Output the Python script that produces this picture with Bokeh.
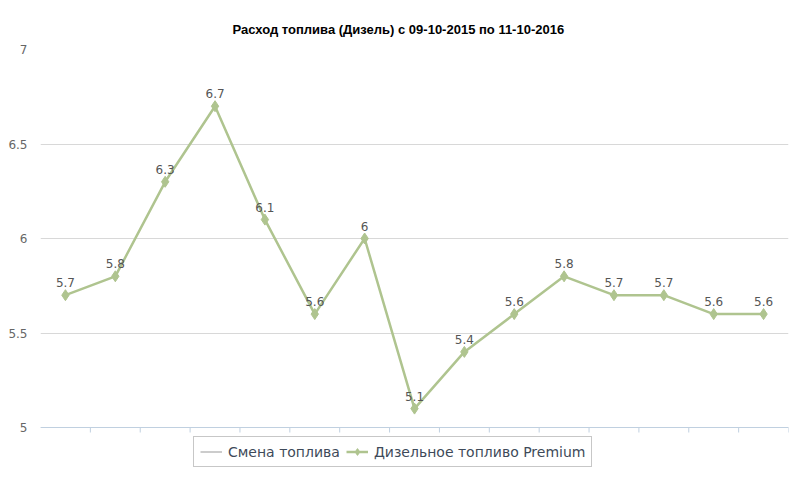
from bokeh.plotting import figure
from bokeh.models import Range1d, FixedTicker, Legend, LegendItem, ColumnDataSource, Span, Title
from bokeh.core.properties import value
from bokeh.embed import file_html
from bokeh.resources import INLINE

title = "Расход топлива (Дизель) с 09-10-2015 по 11-10-2016"
values = [5.7, 5.8, 6.3, 6.7, 6.1, 5.6, 6.0, 5.1, 5.4, 5.6, 5.8, 5.7, 5.7, 5.6, 5.6]
labels = ["5.7", "5.8", "6.3", "6.7", "6.1", "5.6", "6", "5.1", "5.4", "5.6", "5.8", "5.7", "5.7", "5.6", "5.6"]
y_ticks = [5, 5.5, 6, 6.5, 7]
series_names = ["Смена топлива", "Дизельное топливо Premium"]

# layout (pixels)
PLOT_H = 378          # height of the value band 5..7
BELOW = 59            # space under the x axis for ticks and legend
FRAME_H = PLOT_H + BELOW
y_min, y_max = y_ticks[0], y_ticks[-1]
px_per_unit = PLOT_H / (y_max - y_min)

x = list(range(len(values)))
src = ColumnDataSource(dict(x=x, y=values, t=labels))
bounds = [i + 0.5 for i in x]
tick_src = ColumnDataSource(dict(x=bounds, y0=[y_min] * len(bounds),
                                 y1=[y_min - 5 / px_per_unit] * len(bounds)))

p = figure(frame_width=748, frame_height=FRAME_H, output_backend="svg", toolbar_location=None,
           x_range=Range1d(-0.5, len(values) - 0.5),
           y_range=Range1d(y_min - BELOW / px_per_unit, y_max),
           x_axis_location=None,
           min_border_left=40, min_border_right=12, min_border_top=49, min_border_bottom=0)
p.outline_line_color = None
p.background_fill_color = "white"
p.border_fill_color = "white"

p.title.text = title
p.title.align = "left"
p.title.offset = 192
p.title.text_font = "Liberation Sans"
p.title.text_font_style = "bold"
p.title.text_font_size = "13px"
p.title.text_color = "#000000"
p.add_layout(Title(text=" ", text_font_size="5px", standoff=0), "above")

p.xgrid.grid_line_color = None

# y axis
p.yaxis.ticker = FixedTicker(ticks=y_ticks)
p.yaxis.axis_line_color = None
p.yaxis.major_tick_line_color = None
p.yaxis.minor_tick_line_color = None
p.yaxis.major_label_text_font = "DejaVu Sans"
p.yaxis.major_label_text_font_size = "12px"
p.yaxis.major_label_text_color = "#666666"
p.yaxis.major_label_standoff = 7
p.ygrid.grid_line_color = "#D8D8D8"
p.ygrid.grid_line_width = 1

# x axis line and category boundary ticks
p.add_layout(Span(location=y_min, dimension="width", line_color="#C0D0E0", line_width=1))
p.segment(x0="x", y0="y0", x1="x", y1="y1", source=tick_src, line_color="#C0D0E0", line_width=1)

green = "#AFC48F"
nan = float("nan")
dummy = p.line(x=[nan, nan], y=[nan, nan], line_color="#CCCCCC", line_width=2)
ln = p.line("x", "y", source=src, line_color=green, line_width=2.5)
mk = p.scatter("x", "y", source=src, marker="diamond", size=11, fill_color=green, line_color=green)

p.text("x", "y", text="t", source=src, text_align="center", text_baseline="bottom",
       y_offset=-8, text_font=value("DejaVu Sans"), text_font_size="12px", text_color="#555555")

legend = Legend(items=[LegendItem(label=series_names[0], renderers=[dummy]),
                       LegendItem(label=series_names[1], renderers=[ln, mk])],
                orientation="horizontal", location=(153, 19),
                label_text_font="DejaVu Sans", label_text_font_size="14px",
                label_text_color="#3E4A59", border_line_color="#909090",
                border_line_width=1, spacing=6, padding=6, margin=0,
                glyph_width=22, label_standoff=6, label_height=17, glyph_height=17)
p.add_layout(legend)

open("out.html", "w").write(file_html(p, INLINE))
